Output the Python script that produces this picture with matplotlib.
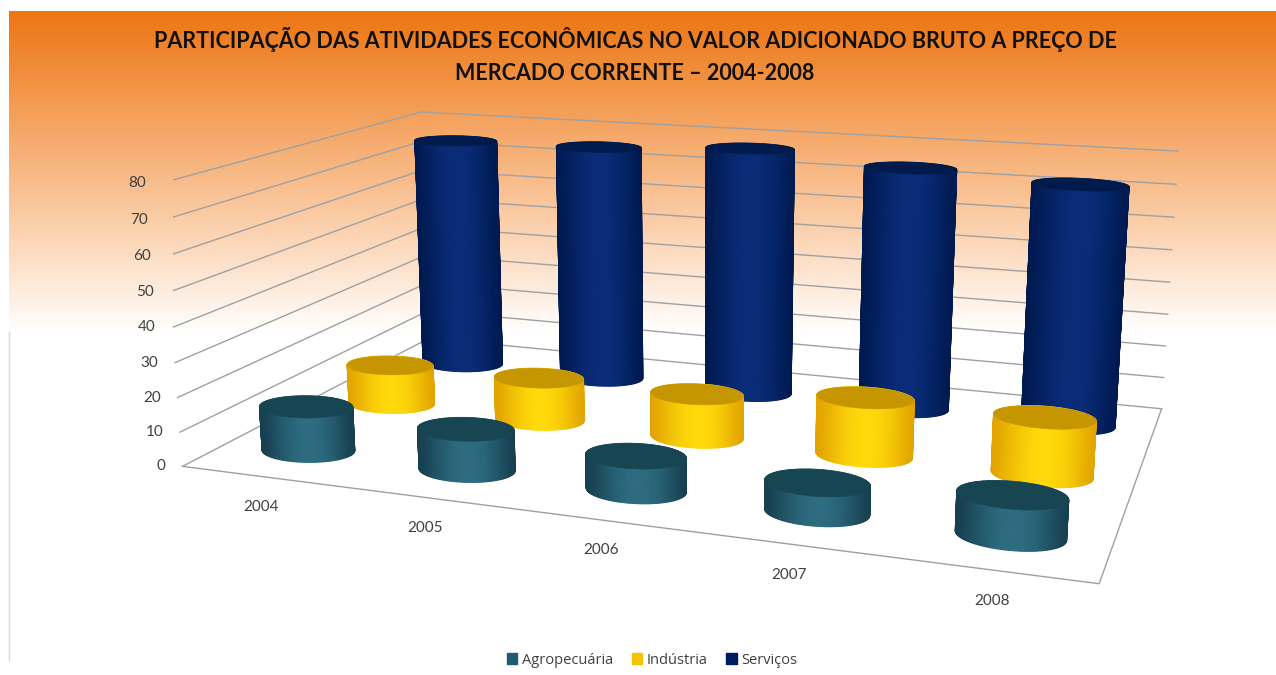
import numpy as np
import matplotlib
matplotlib.use('Agg')
import matplotlib.pyplot as plt
from matplotlib.colors import LinearSegmentedColormap, to_rgb
from matplotlib.patches import Patch
from mpl_toolkits.mplot3d import proj3d
from mpl_toolkits.mplot3d.art3d import Poly3DCollection

years = ['2004', '2005', '2006', '2007', '2008']
agro = [13, 11.7, 9.6, 8, 10.7]
ind = [12.2, 13, 13, 17, 16.5]
serv = [75.1, 75.7, 77.9, 74.7, 72.7]
zticks = [0, 10, 20, 30, 40, 50, 60, 70, 80]
W, H = 1276, 675
fig = plt.figure(figsize=(W/100, H/100), dpi=100, facecolor='white')
bg = fig.add_axes([0, 0, 1, 1], zorder=0)
cm = LinearSegmentedColormap.from_list('o', [(0, '#ED7514'), (0.28, '#F39A50'), (0.62, '#FAC9A0'), (0.92, '#FEF3EA'), (1, '#FFFFFF')])
bg.imshow(np.linspace(0, 1, 320)[:, None], cmap=cm, extent=(9, W, 332, 11), aspect='auto', zorder=0)
bg.plot([9, 9], [332, 660], color='#D8D8D8', lw=1)
bg.set_xlim(0, W); bg.set_ylim(H, 0); bg.axis('off')

ELEV, AZIM, ROLL, FOCAL = 13.8494, -70.5406, -0.0216, np.exp(-1.1070)
ax = fig.add_axes([173.02/W, -152.04/H, 1019.31/W, 1019.31/H], projection='3d', computed_zorder=False, zorder=1)
ax.patch.set_alpha(0)
ax.set_xlim(0, 5, view_margin=0); ax.set_ylim(0, 3, view_margin=0); ax.set_zlim(0, 80, view_margin=0)
ax.set_axis_off()
ax.view_init(elev=ELEV, azim=AZIM, roll=ROLL)
ax.set_proj_type('persp', focal_length=FOCAL)
ax.set_box_aspect((np.exp(1.1461), np.exp(0.6079), 1))

gc = '#A0A0A0'
for z in zticks:
    ax.plot([0, 0, 5], [0, 3, 3], [z, z, z], color=gc, lw=1, zorder=1)
ax.plot([0, 5, 5], [0, 0, 3], [0, 0, 0], color=gc, lw=1, zorder=1)

M = ax.get_proj()
def proj(x, y, z):
    a, b, _ = proj3d.proj_transform(x, y, z, M)
    return float(a), float(b)

def cylinder(cx, cy, h, dark, bright, cap, z):
    n = 120
    t = np.linspace(0, 2*np.pi, n+1)
    rx, ry = 0.275, 0.21
    X, Y = cx+rx*np.cos(t), cy+ry*np.sin(t)
    az = np.radians(AZIM)
    d, b = np.array(to_rgb(dark)), np.array(to_rgb(bright))
    sx = np.array([proj(X[i], Y[i], h/2)[0] for i in range(n)])
    mid, half = (sx.max()+sx.min())/2, (sx.max()-sx.min())/2
    order = sorted(range(n), key=lambda i: np.cos((t[i]+t[i+1])/2-az))
    for k, i in enumerate(order):
        u = min(1, abs(sx[i]-mid)/half)
        col = d+(b-d)*(1-u*u)**1.5
        quad = [(X[i], Y[i], 0), (X[i+1], Y[i+1], 0), (X[i+1], Y[i+1], h), (X[i], Y[i], h)]
        ax.add_collection3d(Poly3DCollection([quad], facecolors=[col], edgecolors=[col], linewidths=0.8, zorder=z+k*1e-3))
    ax.add_collection3d(Poly3DCollection([list(zip(X, Y, np.full_like(X, h)))], facecolors=cap, edgecolors=cap, linewidths=0.4, zorder=z+0.5))

styles = [('#173F50', '#2D6C80', '#174652'), ('#E2A400', '#FFD90A', '#C69600'), ('#001A50', '#0A2C78', '#001A4C')]
series = [agro, ind, serv]
zo = 10
for j in (2, 1, 0):
    for i in range(len(years)):
        cylinder(i+0.5, j+0.5, series[j][i], *styles[j], zo)
        zo += 1

tc = '#404040'
for z in zticks:
    ax.annotate(str(z), xy=proj(0, 0, z), xytext=(-12, 0), textcoords='offset points', ha='right', va='center', fontsize=11, family='Lato', color=tc, annotation_clip=False)
for i, yr in enumerate(years):
    ax.annotate(yr, xy=proj(i+0.5, 0, 0), xytext=(0, -22), textcoords='offset points', ha='center', va='center', fontsize=11, family='Lato', color=tc, annotation_clip=False)

fig.text(635/W, 1-39/H, 'PARTICIPAÇÃO DAS ATIVIDADES ECONÔMICAS NO VALOR ADICIONADO BRUTO A PREÇO DE', ha='center', va='center', fontsize=15.5, fontweight='bold', family='Lato', color='#111111')
fig.text(635/W, 1-73/H, 'MERCADO CORRENTE – 2004-2008', ha='center', va='center', fontsize=15.5, fontweight='bold', family='Lato', color='#111111')
h = [Patch(color='#1F5A70'), Patch(color='#F5C400'), Patch(color='#001C60')]
fig.legend(h, ['Agropecuária', 'Indústria', 'Serviços'], loc='center', bbox_to_anchor=(652/W, 1-660/H), ncol=3, frameon=False, prop={'family': 'Open Sans', 'size': 10.5}, handlelength=0.7, handleheight=0.7, handletextpad=0.3, columnspacing=1.3, labelcolor='#404040')
fig.savefig('out.png', dpi=100)
